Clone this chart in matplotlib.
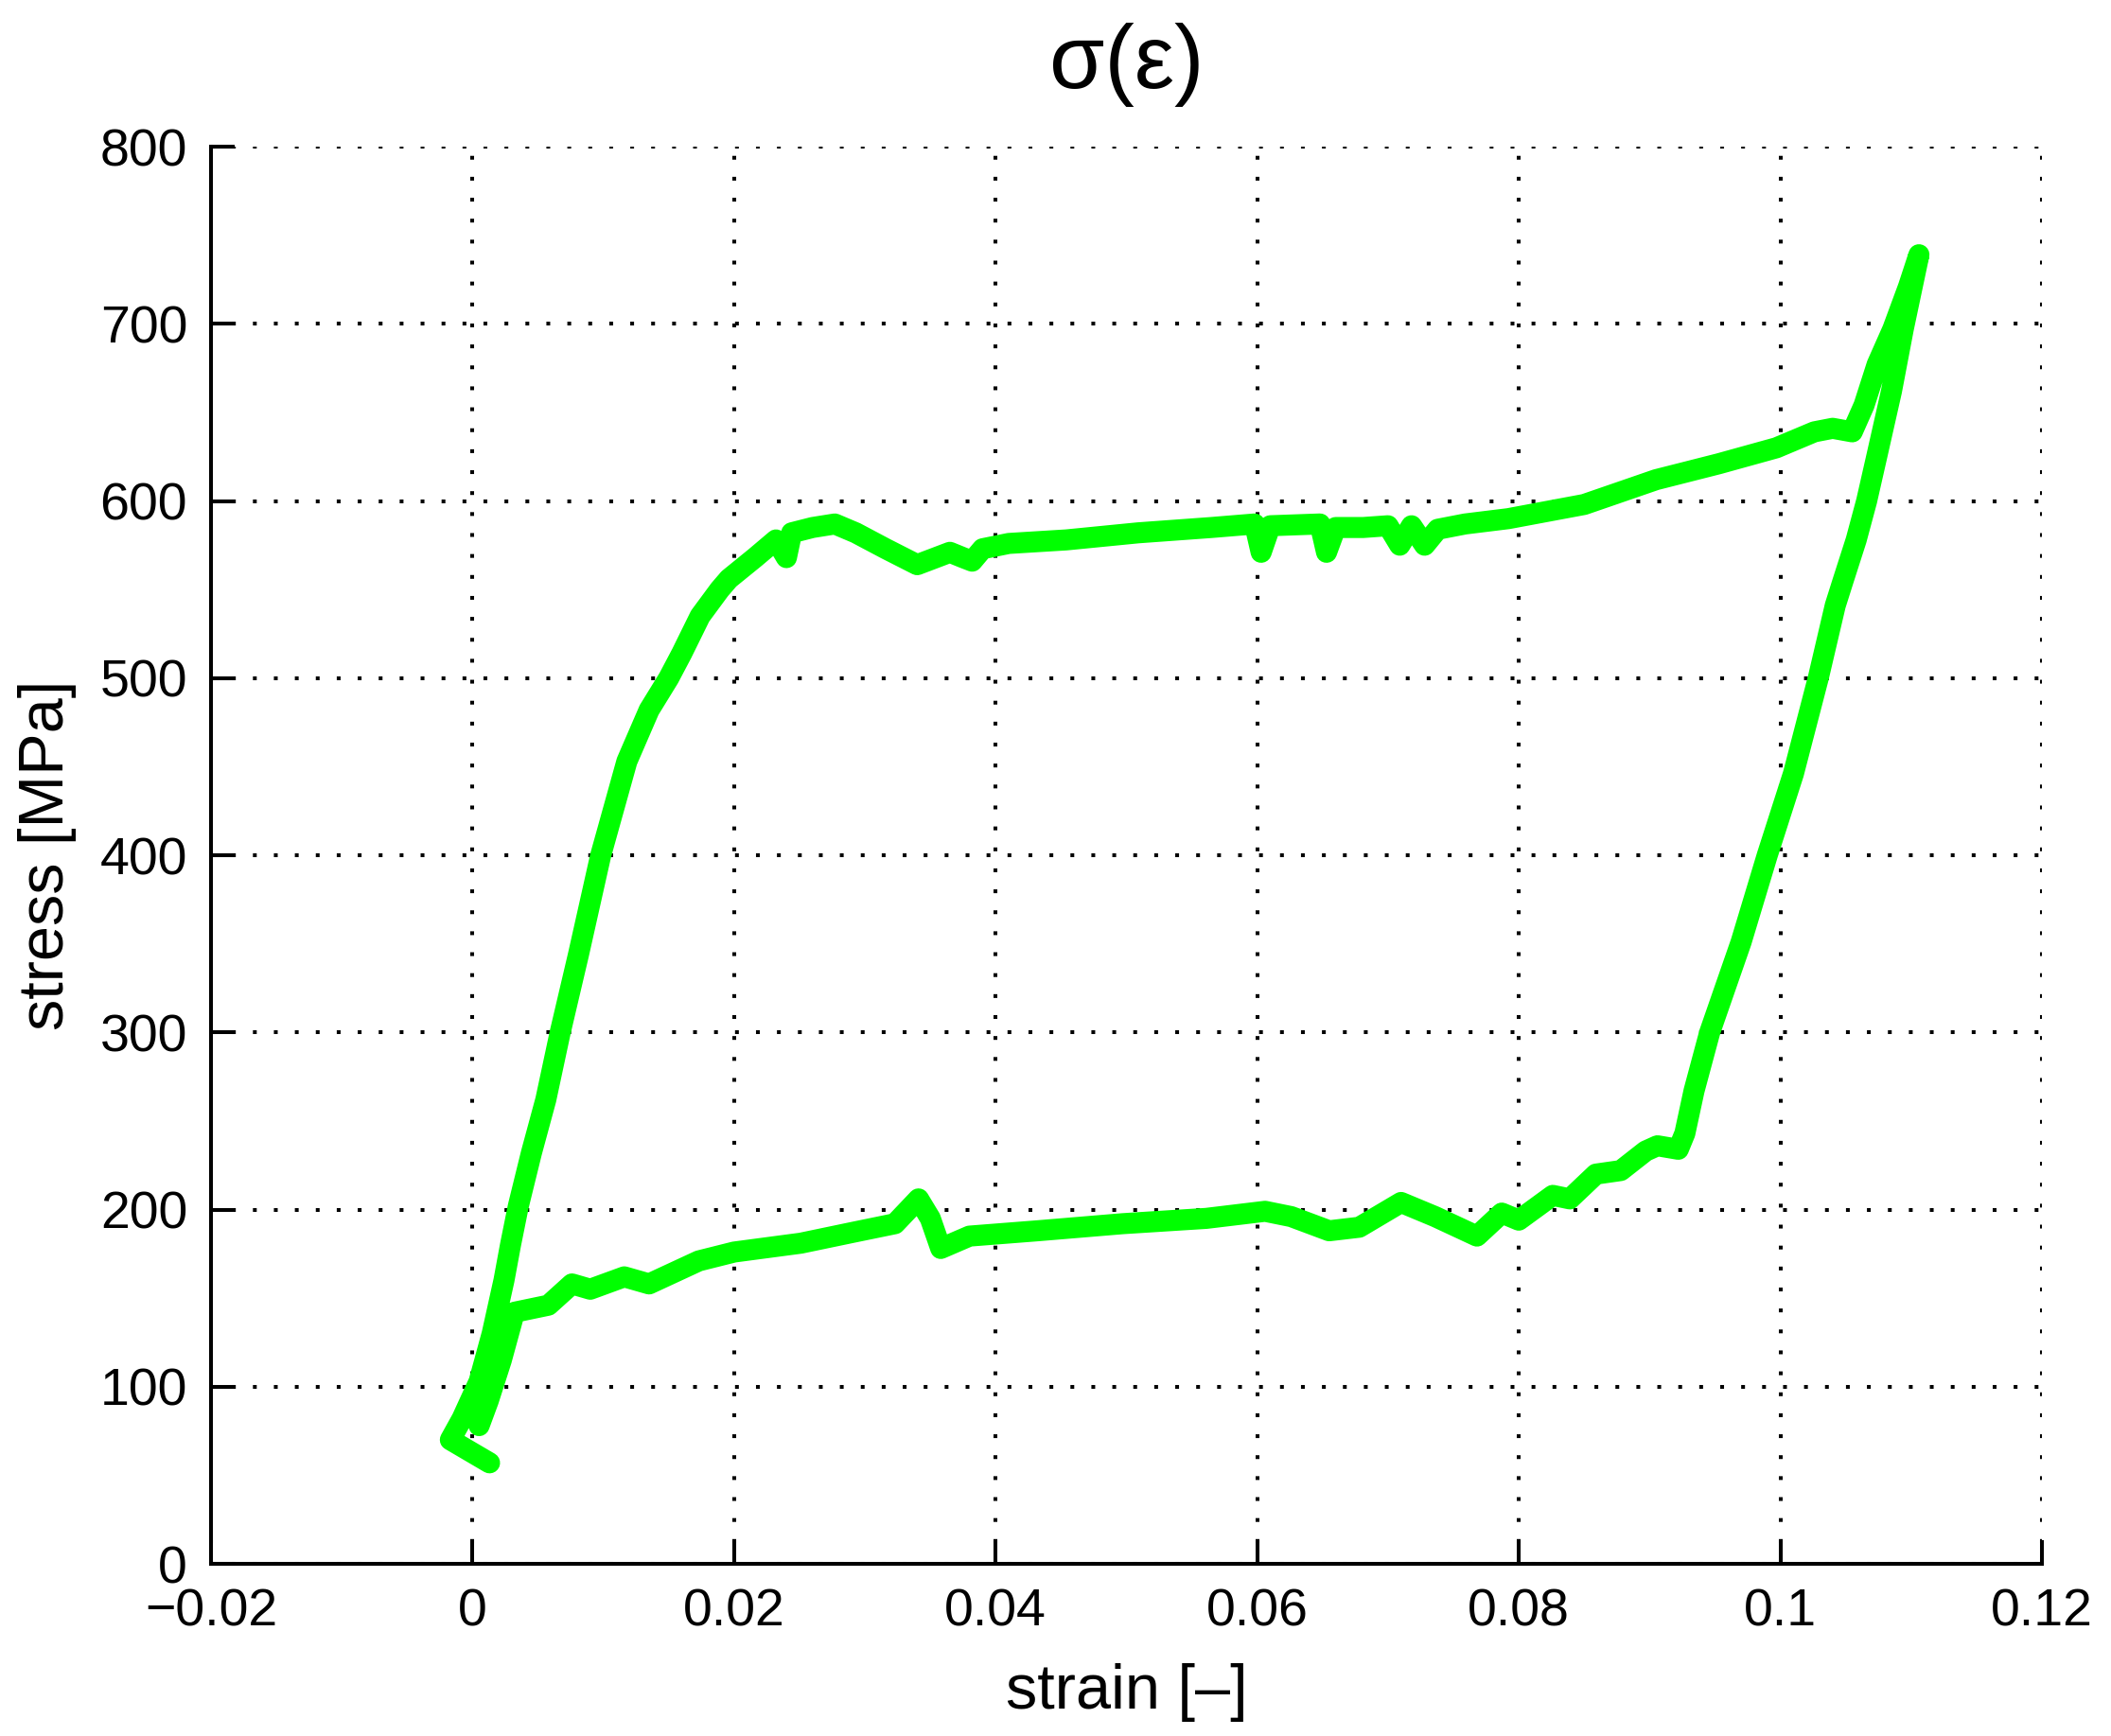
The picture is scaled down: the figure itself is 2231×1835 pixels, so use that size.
import numpy as np
import matplotlib.pyplot as plt

# Нагружение: деформация [-] и напряжение [МПа]
strain_load = [0.0013, -0.0017, -0.0008, 0.0005, 0.0015, 0.0024, 0.0029, 0.0035,
               0.0045, 0.0056, 0.0067, 0.0081, 0.0098, 0.0118, 0.0135, 0.0150,
               0.0160, 0.0174, 0.0189, 0.0196, 0.0216, 0.0232, 0.0240, 0.0244,
               0.0260, 0.0277, 0.0293, 0.0316, 0.0340, 0.0365, 0.0375, 0.0382,
               0.0390, 0.0410, 0.0454, 0.0509, 0.0565, 0.0598, 0.0603, 0.0610,
               0.0648, 0.0653, 0.0660, 0.0681, 0.0700, 0.0709, 0.0718, 0.0728,
               0.0738, 0.0759, 0.0792, 0.0850, 0.0905, 0.0953, 0.0997, 0.1026,
               0.1040, 0.1055, 0.1064, 0.1074, 0.1086, 0.1098, 0.1106]
stress_load = [57, 70, 82, 103, 130, 160, 180, 202,
               232, 262, 300, 344, 400, 453, 482, 500,
               514, 535, 550, 556, 568, 578, 568, 582,
               585, 587, 582, 573, 564, 571, 568, 566,
               573, 576, 578, 582, 585, 587, 571, 586,
               587, 571, 585, 585, 586, 575, 586, 575,
               584, 587, 590, 598, 612, 621, 630, 639,
               641, 639, 654, 677, 697, 721, 739]

# Разгрузка
strain_unload = [0.1106, 0.1094, 0.1085, 0.1074, 0.1066, 0.1058, 0.1048, 0.1042,
                 0.1029, 0.1010, 0.0990, 0.0970, 0.0946, 0.0934, 0.0927, 0.0922]
stress_unload = [739, 697, 662, 626, 600, 578, 555, 541,
                 500, 446, 400, 351, 300, 267, 243, 234]

# Обратное превращение (нижняя ветвь)
strain_back = [0.0922, 0.0906, 0.0897, 0.0878, 0.0859, 0.0839, 0.0826, 0.0800,
               0.0787, 0.0768, 0.0736, 0.0710, 0.0678, 0.0655, 0.0626, 0.0606,
               0.0561, 0.0497, 0.0432, 0.0380, 0.0358, 0.0350, 0.0341, 0.0323,
               0.0290, 0.0251, 0.0200, 0.0173, 0.0135, 0.0116, 0.0090, 0.0076,
               0.0058, 0.0032, 0.0022, 0.0012, 0.0005]
stress_back = [234, 236, 233, 222, 220, 206, 208, 194,
               198, 185, 196, 204, 190, 188, 196, 199,
               195, 192, 188, 185, 178, 195, 206, 192,
               187, 181, 176, 171, 158, 162, 155, 158,
               146, 142, 115, 92, 78]

strain = np.concatenate([strain_load, strain_unload, strain_back])
stress = np.concatenate([stress_load, stress_unload, stress_back])

plt.rcParams['font.family'] = ['Liberation Sans', 'DejaVu Sans']

fig = plt.figure(figsize=(22.31, 18.35), dpi=100)
ax = fig.add_axes([0.09996, 0.09918, 0.8673, 0.81635])

ax.plot(strain, stress, color='#00ff00', linewidth=16,
        solid_joinstyle='round', solid_capstyle='round')

ax.set_xlim(-0.02, 0.12)
ax.set_ylim(0, 800)
ax.set_xticks(np.arange(-0.02, 0.121, 0.02))
ax.set_xticklabels(['\u22120.02', '0', '0.02', '0.04', '0.06', '0.08', '0.1', '0.12'])
ax.set_yticks(np.arange(0, 801, 100))

ax.grid(True, color='black', linestyle=(0, (1, 4.5)), linewidth=2.9)
ax.set_axisbelow(True)

ax.spines['top'].set_visible(False)
ax.spines['right'].set_visible(False)
ax.spines['left'].set_linewidth(2.9)
ax.spines['bottom'].set_linewidth(2.9)
ax.tick_params(direction='in', length=18, width=2.9, labelsize=40, pad=18)

ax.set_xlabel('strain [\u2013]', fontsize=48, labelpad=20)
ax.set_ylabel('stress [MPa]', fontsize=48, labelpad=18)
ax.set_title('\u03c3(\u03b5)', fontsize=68, pad=45)

fig.savefig('out.png', dpi=100)
